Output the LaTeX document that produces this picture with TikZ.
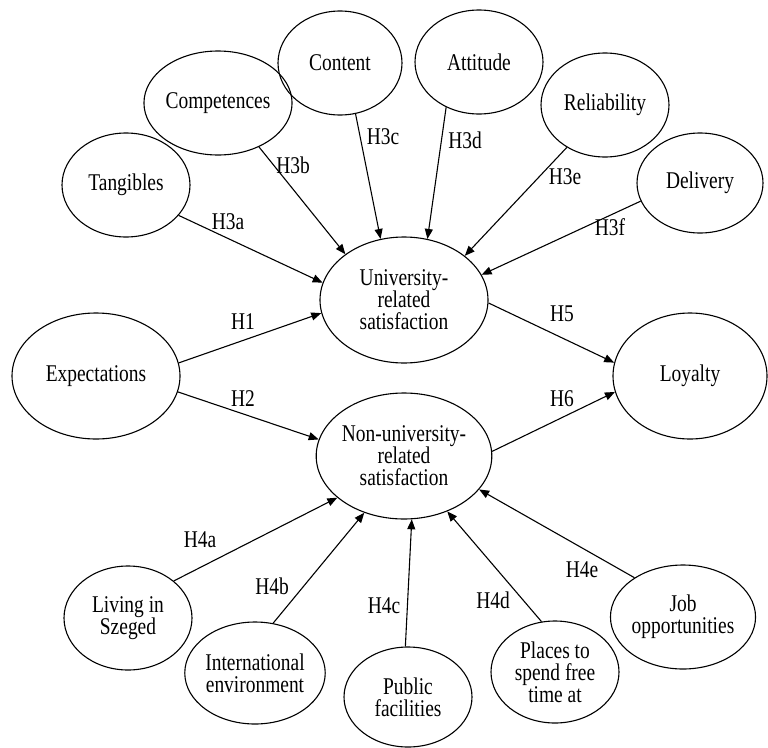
\documentclass[tikz,border=0pt]{standalone}
\usepackage{fontspec}
\setmainfont{Liberation Serif}[FakeStretch=0.81]
\usetikzlibrary{shapes.geometric,arrows.meta}
\begin{document}
\begin{tikzpicture}[x=1pt,y=-1pt,
  ell/.style={draw, ellipse, inner sep=0pt, align=center, line width=1.1pt,
    font=\fontsize{24}{22}\selectfont},
  lbl/.style={inner sep=0pt, font=\fontsize{24}{22}\selectfont},
  arr/.style={-{Triangle[length=10pt,width=8pt]}, line width=1.1pt}]
\useasboundingbox (0,0) rectangle (768,747);
% top ring
\node[ell, minimum width=128pt, minimum height=104pt] (tang) at (126,185) {Tangibles};
\node[ell, minimum width=128pt, minimum height=104pt] (comp) at (218,103) {Competences};
\node[ell, minimum width=124pt, minimum height=104pt] (cont) at (340,63) {Content};
\node[ell, minimum width=128pt, minimum height=104pt] (atti) at (479,62) {Attitude};
\node[ell, minimum width=128pt, minimum height=104pt] (reli) at (605,105) {Reliability};
\node[ell, minimum width=126pt, minimum height=100pt] (deli) at (700,183) {Delivery};
% middle
\node[ell, minimum width=168pt, minimum height=126pt] (uni) at (404,300) {University-\\related\\satisfaction};
\node[ell, minimum width=168pt, minimum height=126pt] (non) at (404,456) {Non-university-\\related\\satisfaction};
\node[ell, minimum width=168pt, minimum height=126pt] (expe) at (96,376) {Expectations};
\node[ell, minimum width=154pt, minimum height=126pt] (loya) at (690,376) {Loyalty};
% bottom ring
\node[ell, minimum width=128pt, minimum height=104pt] (livi) at (128,618) {Living in\\Szeged};
\node[ell, minimum width=128pt, minimum height=102pt] (intl) at (255,673) {International\\environment};
\node[ell, minimum width=128pt, minimum height=100pt] (publ) at (408,697) {Public\\facilities};
\node[ell, minimum width=128pt, minimum height=102pt] (plac) at (555,672) {Places to\\spend free\\time at};
\node[ell, minimum width=128pt, minimum height=104pt] (jobo) at (683,617) {Job\\opportunities};
% connectors
\draw[arr] (tang.-30.5) -- (uni.168);
\draw[arr] (comp.-47) -- (uni.142);
\draw[arr] (cont.-73) -- (uni.111);
\draw[arr] (atti.-126) -- (uni.69);
\draw[arr] (reli.-132) -- (uni.36);
\draw[arr] (deli.-163) -- (uni.18.4);
\draw[arr] (expe.9.2) -- (uni.189.5);
\draw[arr] (expe.-11.2) -- (non.169.2);
\draw[arr] (uni.-2.5) -- (loya.170);
\draw[arr] (non.3) -- (loya.192);
\draw[arr] (livi.39.7) -- (non.212);
\draw[arr] (intl.70.2) -- (non.235.2);
\draw[arr] (publ.93) -- (non.-83);
\draw[arr] (plac.105.6) -- (non.-52);
\draw[arr] (jobo.141.2) -- (non.-24.7);
% labels
\node[lbl] (lH3a) at (228,222) {H3a};
\node[lbl] (lH3b) at (293,165) {H3b};
\node[lbl] (lH3c) at (383,137) {H3c};
\node[lbl] (lH3d) at (465,140) {H3d};
\node[lbl] (lH3e) at (565,177) {H3e};
\node[lbl] (lH3f) at (610,227) {H3f};
\node[lbl] (lH1) at (243,322) {H1};
\node[lbl] (lH2) at (243,399) {H2};
\node[lbl] (lH5) at (562,314) {H5};
\node[lbl] (lH6) at (562,399) {H6};
\node[lbl] (lH4a) at (200,540) {H4a};
\node[lbl] (lH4b) at (272,586) {H4b};
\node[lbl] (lH4c) at (384,606) {H4c};
\node[lbl] (lH4d) at (493,600) {H4d};
\node[lbl] (lH4e) at (582,570) {H4e};
\end{tikzpicture}
\end{document}
